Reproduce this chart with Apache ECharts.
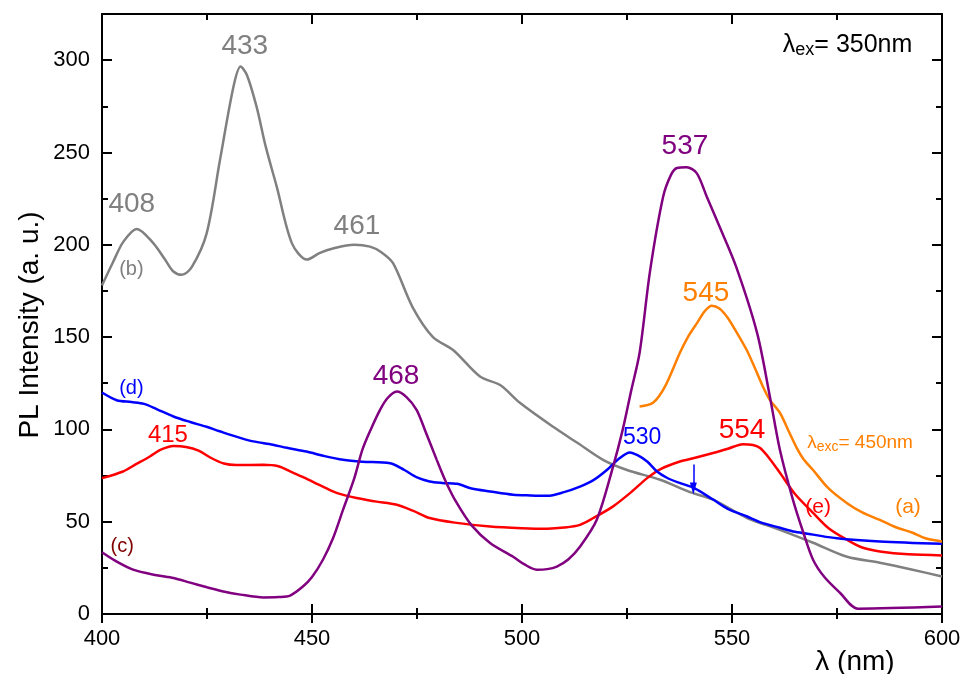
<!DOCTYPE html>
<html><head><meta charset="utf-8">
<script src="https://cdn.jsdelivr.net/npm/echarts@6/dist/echarts.min.js"></script>
<style>html,body{margin:0;padding:0;background:#fff}#c{width:965px;height:674px}</style>
</head><body><div id="c"></div>
<script>
// ---- data (wavelength nm, intensity a.u.) ----
const curveA = [[528,112.4],[531.2,114.4],[534,123],[537.6,141.5],[539.5,150],[541.7,157.7],[543.5,164],[545.2,167],[547,165.5],[548.8,161],[551,153],[553.5,143],[555.5,133],[557.4,123],[559,116],[561.4,109],[563.5,99],[565.4,90],[567,84],[569.3,78],[573,68],[577.4,60],[581,55],[585.2,51],[589,47],[593,44],[596,41],[600,39.3]];
const curveB = [[400,178],[402.5,190],[405.1,201.7],[408.3,208.6],[412.2,200.9],[415,192],[417,185.5],[419,183.7],[421.4,188],[424.9,206],[428.1,246],[431.3,285.6],[433,296.5],[434.5,292],[436.8,274.8],[439,253],[441.6,231.5],[445.2,200.9],[448.8,192],[451.9,195.6],[455,198],[460,200],[463.8,199],[466.5,196],[469.3,190],[474,166],[478.8,150],[483.6,143],[490,128.6],[494.8,124],[499.5,114.4],[507.4,101.4],[513,93],[519.3,83.5],[525,78],[532.9,72.7],[540,66],[545.5,62],[553.6,52],[561.4,45.6],[569.3,38.6],[577.4,31],[585.2,27.8],[593,24],[600,20.3]];
const curveC = [[400,33.4],[403,29],[407.4,24],[413,21],[417,19.5],[421,17],[425,14.5],[428.9,12.2],[433,10.5],[438.4,9],[442,9.2],[444.8,10],[447.9,15],[450,20],[452.6,29.4],[455,41],[457.4,56.5],[460,73],[462,89],[464,100],[466.2,110.6],[468,117],[470.2,120.5],[472.5,117.5],[474.9,110.6],[477,99],[479.7,83.5],[482,71],[484.5,60],[488,48],[492.4,38.5],[497.9,31],[500.5,27],[503.5,24],[506,24.3],[508.3,25.7],[511,29.5],[513.8,36.4],[517.8,51],[521.7,80],[524,100],[526,121],[528,141.5],[530.5,186],[533.6,226],[535.5,238],[536.9,241.6],[539.2,242],[541.6,238.8],[544,226],[547,210],[551,188],[556,152],[559,118],[561.4,89],[564.5,62],[567,44],[569.3,29.4],[572,20],[575.7,11.5],[580,2.9],[600,4]];
const curveD = [[400,120],[403.5,115.8],[407,114.8],[410,113.8],[413,111],[417,107],[421,104],[424.9,101.4],[428,99],[432.9,95.4],[436,93.5],[440.7,91.7],[444,90],[448.7,88],[453,85.5],[457.4,83.5],[462,82.5],[468.6,81.7],[472,78],[475,74],[478,71.8],[481,71],[484.5,70.5],[488,68],[492.4,66.4],[497.9,64.6],[502,64.2],[506,64],[510,66],[513.8,69],[517,72.5],[520.2,78],[523,84],[525.7,87.5],[527.5,86],[529.8,82.6],[532,77.5],[534.5,73.8],[537.5,71],[540.8,68.4],[545.5,62],[549,57],[553.6,52.8],[557,49.5],[561.4,46.7],[565,44.5],[569.3,43],[575,41],[585.2,39.3],[600,38]];
const curveE = [[400,73.6],[405,77.2],[408,81],[411.4,85.3],[414,89],[417,91],[420,90.5],[423,88.5],[426,84.5],[429,81.5],[432,80.7],[438.4,80.8],[442,80],[444.8,77.2],[448,74],[452.6,69],[456,65.5],[460.6,62.8],[465,61],[470.2,59.2],[474,56],[478,52],[484,49.5],[492.4,47.4],[500,46.5],[506,46.2],[510,46.8],[513.8,48.3],[517,52],[521.7,58.3],[526,66],[529.8,73.6],[533,78.5],[537.6,82.6],[541,84.5],[545.5,87.2],[549,89.5],[552.6,92],[555,91.5],[556.7,89.9],[559,84],[561.4,76.5],[565,65],[569.3,54.8],[573,46.5],[577.4,40.2],[581,36],[585.2,33.9],[592,32.3],[600,31.7]];
// arrow marker on curve (d), data coords
const arrowD = [[540.8, 81], [540.8, 68]];
// annotation texts and anchor points (data coords)
const annoTexts  = ['408','433','461','(b)','468','537','545','(d)','415','(c)','530','554','(e)','(a)'];
const annoPoints = [[407.1,222],[434,307.6],[460.7,210],[407,186.5],[470,129],[538.8,253.6],[543.8,173.5],[407,122],[415.7,96.6],[404.8,36.5],[528.6,95.5],[552.4,99.7],[570.5,58],[591.9,58]];
const annoColors = ['#808080','#808080','#808080','#808080','#800080','#800080','#FF8000','#0000FF','#FF0000','#800000','#0000FF','#FF0000','#FF0000','#FF8000'];
const annoSizes  = [28,28,28,20,28,28,28,20,24,20,23,28,21,21];
const xTicks = [400, 450, 500, 550, 600];
const yTicks = [0, 50, 100, 150, 200, 250, 300];

const FONT = '"Liberation Sans", Arial, sans-serif';
const chart = echarts.init(document.getElementById('c'), null, {renderer:'canvas'});

const axisLineStyle = {color:'#000', width:2};
function xAx(extra){ return Object.assign({type:'value', min:xTicks[0], max:xTicks[xTicks.length-1], interval:50, gridIndex:0, splitLine:{show:false}}, extra); }
function yAx(extra){ return Object.assign({type:'value', min:0, max:325, gridIndex:0, splitLine:{show:false}}, extra); }

const labelData = annoTexts.map((t,i)=>({
  value: annoPoints[i],
  label:{show:true, position:'inside', formatter:t, color:annoColors[i], fontSize:annoSizes[i], fontFamily:FONT}
}));
labelData.push({value:[567.9,92.6], label:{show:true, position:'right', distance:0, color:'#FF8000', fontFamily:FONT,
  formatter:'{a|λ}{s|exc}{a|= 450nm}', rich:{a:{fontSize:19, color:'#FF8000', fontFamily:FONT, lineHeight:22}, s:{fontSize:14, color:'#FF8000', fontFamily:FONT, verticalAlign:'bottom', lineHeight:14, padding:[8,0,0,0]}}}});
labelData.push({value:[562.1,308.3], label:{show:true, position:'right', distance:0, color:'#000', fontFamily:FONT,
  formatter:'{a|λ}{s|ex}{a|= 350nm}', rich:{a:{fontSize:25, color:'#000', fontFamily:FONT, lineHeight:28}, s:{fontSize:18, color:'#000', fontFamily:FONT, verticalAlign:'bottom', lineHeight:18, padding:[10,0,0,0]}}}});

function line(data, color){ return {type:'line', data, showSymbol:false, symbol:'none', smooth:0.3, lineStyle:{color, width:2.5}, itemStyle:{color}, z:3, animation:false}; }

const seriesD = line(curveD, '#0000FF');
seriesD.markLine = {silent:true, symbol:['none','triangle'], symbolSize:[7,12], animation:false,
  lineStyle:{color:'#0000FF', width:1.5, type:'solid'}, label:{show:false},
  data:[[{coord:arrowD[0]},{coord:arrowD[1]}]]};

chart.setOption({
  animation:false,
  backgroundColor:'#fff',
  grid:{left:102, right:23, top:14, bottom:60, containLabel:false},
  xAxis:[
    xAx({position:'bottom', axisLine:{show:true, onZero:false, lineStyle:axisLineStyle},
      axisTick:{show:true, inside:true, length:10, lineStyle:{color:'#000', width:2}},
      minorTick:{show:true, splitNumber:2, length:6, lineStyle:{color:'#000', width:2}},
      axisLabel:{show:true, color:'#000', fontSize:22, fontFamily:FONT, margin:14}}),
    xAx({position:'bottom', axisLine:{show:false, onZero:false},
      axisTick:{show:true, inside:false, length:9, lineStyle:{color:'#000', width:2}},
      minorTick:{show:true, splitNumber:2, length:5, lineStyle:{color:'#000', width:2}},
      axisLabel:{show:false}}),
    xAx({position:'top', axisLine:{show:true, onZero:false, lineStyle:axisLineStyle},
      axisTick:{show:true, inside:true, length:10, lineStyle:{color:'#000', width:2}},
      minorTick:{show:true, splitNumber:2, length:6, lineStyle:{color:'#000', width:2}},
      axisLabel:{show:false}})
  ],
  yAxis:[
    yAx({position:'left', interval:50, axisLine:{show:true, onZero:false, lineStyle:axisLineStyle},
      axisTick:{show:true, inside:true, length:10, lineStyle:{color:'#000', width:2}},
      axisLabel:{show:true, color:'#000', fontSize:22, fontFamily:FONT, margin:12,
        formatter:v=> yTicks.includes(v) ? String(v) : ''}}),
    yAx({position:'left', interval:25, axisLine:{show:false, onZero:false},
      axisTick:{show:true, inside:true, length:6, lineStyle:{color:'#000', width:2}}, axisLabel:{show:false}}),
    yAx({position:'right', interval:50, axisLine:{show:true, onZero:false, lineStyle:axisLineStyle},
      axisTick:{show:true, inside:true, length:10, lineStyle:{color:'#000', width:2}}, axisLabel:{show:false}}),
    yAx({position:'right', interval:25, axisLine:{show:false, onZero:false},
      axisTick:{show:true, inside:true, length:6, lineStyle:{color:'#000', width:2}}, axisLabel:{show:false}})
  ],
  graphic:[
    {type:'text', x:30, y:325, rotation:Math.PI/2, style:{text:'PL Intensity (a. u.)', fill:'#000', font:'28px '+FONT, textAlign:'center', textVerticalAlign:'middle'}},
    {type:'text', x:855, y:662, style:{text:'λ (nm)', fill:'#000', font:'28px '+FONT, textAlign:'center', textVerticalAlign:'middle'}}
  ],
  series:[
    line(curveB, '#808080'),
    line(curveE, '#FF0000'),
    seriesD,
    line(curveA, '#FF8000'),
    line(curveC, '#800080'),
    {type:'scatter', data:labelData, symbolSize:0, z:5, silent:true, animation:false, itemStyle:{opacity:1}, emphasis:{disabled:true}}
  ]
});
</script></body></html>
